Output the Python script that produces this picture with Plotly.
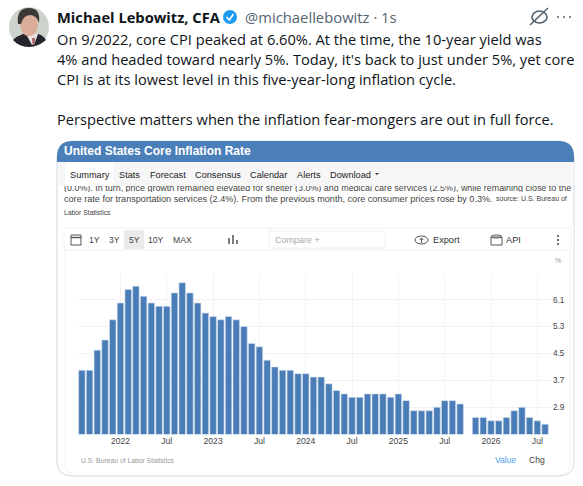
import plotly.graph_objects as go

W, H = 583, 486

# ---- data ----
months = ["Aug 2021", "Sep 2021", "Oct 2021", "Nov 2021", "Dec 2021",
          "Jan 2022", "Feb 2022", "Mar 2022", "Apr 2022", "May 2022", "Jun 2022", "Jul 2022",
          "Aug 2022", "Sep 2022", "Oct 2022", "Nov 2022", "Dec 2022",
          "Jan 2023", "Feb 2023", "Mar 2023", "Apr 2023", "May 2023", "Jun 2023", "Jul 2023",
          "Aug 2023", "Sep 2023", "Oct 2023", "Nov 2023", "Dec 2023",
          "Jan 2024", "Feb 2024", "Mar 2024", "Apr 2024", "May 2024", "Jun 2024", "Jul 2024",
          "Aug 2024", "Sep 2024", "Oct 2024", "Nov 2024", "Dec 2024",
          "Jan 2025", "Feb 2025", "Mar 2025", "Apr 2025", "May 2025", "Jun 2025", "Jul 2025",
          "Aug 2025", "Sep 2025", "Oct 2025", "Nov 2025", "Dec 2025",
          "Jan 2026", "Feb 2026", "Mar 2026", "Apr 2026", "May 2026", "Jun 2026", "Jul 2026",
          "Aug 2026"]
core_cpi = [4.0, 4.0, 4.6, 4.9, 5.5,
            6.0, 6.4, 6.5, 6.2, 6.0, 5.9, 5.9,
            6.3, 6.6, 6.3, 6.0, 5.7,
            5.6, 5.5, 5.6, 5.5, 5.3, 4.8, 4.7,
            4.3, 4.1, 4.0, 4.0, 3.9,
            3.9, 3.8, 3.8, 3.6, 3.4, 3.3, 3.2,
            3.2, 3.3, 3.3, 3.3, 3.2,
            3.3, 3.1, 2.8, 2.8, 2.8, 2.9, 3.1,
            3.1, 3.0, None, 2.6, 2.6,
            2.5, 2.5, 2.6, 2.8, 2.9, 2.6, 2.5,
            2.4]
x_ticks = ["Jan 2022", "Jul 2022", "Jan 2023", "Jul 2023", "Jan 2024", "Jul 2024",
           "Jan 2025", "Jul 2025", "Jan 2026", "Jul 2026"]
x_tick_labels = ["2022", "Jul", "2023", "Jul", "2024", "Jul", "2025", "Jul", "2026", "Jul"]
y_ticks = [2.9, 3.7, 4.5, 5.3, 6.1]
tweet_lines = [
    "On 9/2022, core CPI peaked at 6.60%. At the time, the 10-year yield was",
    "4% and headed toward nearly 5%. Today, it's back to just under 5%, yet core",
    "CPI is at its lowest level in this five-year-long inflation cycle.",
    "Perspective matters when the inflation fear-mongers are out in full force.",
]

# ---- helpers for page furniture (pixel coords from top-left) ----
def px(x): return x / W
def py(y): return 1 - y / H

shapes, annos = [], []

def rect(x0, y0, x1, y1, fill="rgba(0,0,0,0)", line=None, lw=1, layer="below"):
    shapes.append(dict(type="rect", xref="paper", yref="paper", x0=px(x0), x1=px(x1),
                       y0=py(y1), y1=py(y0), fillcolor=fill, layer=layer,
                       line=dict(color=line or "rgba(0,0,0,0)", width=lw if line else 0)))

def path(d, fill="rgba(0,0,0,0)", line=None, lw=1):
    """d is a list of tokens: letters and (x,y) pixel tuples."""
    out = []
    for t in d:
        out.append(t if isinstance(t, str) else f"{px(t[0])},{py(t[1])}")
    shapes.append(dict(type="path", xref="paper", yref="paper", path=" ".join(out),
                       fillcolor=fill, layer="below",
                       line=dict(color=line or "rgba(0,0,0,0)", width=lw if line else 0)))

def oval(x0, y0, x1, y1, fill="rgba(0,0,0,0)", line=None, lw=1):
    shapes.append(dict(type="circle", xref="paper", yref="paper", x0=px(x0), x1=px(x1),
                       y0=py(y1), y1=py(y0), fillcolor=fill, layer="below",
                       line=dict(color=line or "rgba(0,0,0,0)", width=lw if line else 0)))

def text(x, y, s, size=10, color="#333333", font="Liberation Sans", anchor="left", bold=False):
    annos.append(dict(xref="paper", yref="paper", x=px(x), y=py(y), text=f"<b>{s}</b>" if bold else s,
                      showarrow=False, xanchor=anchor, yanchor="middle",
                      font=dict(size=size, color=color, family=font), borderpad=0, borderwidth=0))

TWEET = "Open Sans"
# avatar
oval(9, 7, 49, 47, fill="#ccd3cc")
path(["M", (13, 40), "Q", (17, 36), (23, 34), "L", (38, 34), "Q", (43, 35), (46, 40),
      "Q", (38, 47), (29, 47), "Q", (19, 47), (13, 40), "Z"], fill="#23242c")
path(["M", (26, 34), "L", (38, 34), "L", (34, 45), "L", (32, 45), "Z"], fill="#e8e2e3")
path(["M", (32, 38), "L", (35, 38), "L", (34.5, 45), "L", (32.5, 45), "Z"], fill="#a8606f")
oval(20, 13, 38, 36, fill="#d9ad98")
path(["M", (18, 24), "Q", (16, 8), (29, 8), "Q", (41, 8), (39, 23), "Q", (37, 16), (31, 15),
      "Q", (23, 15), (21, 24), "Z"], fill="#3b3a38")

# tweet header
text(57, 17, "Michael Lebowitz, CFA", size=14.7, color="#0f1419", font=TWEET, bold=True)
oval(223, 10, 237, 24, fill="#1d9bf0")
path(["M", (226.5, 17), "L", (229.3, 20), "L", (233.5, 14)], line="#ffffff", lw=1.6)
text(245, 17, "@michaellebowitz · 1s", size=14.8, color="#536471", font=TWEET)
# grok-like icon
oval(532, 11, 547, 23, line="#536471", lw=1.6)
path(["M", (530, 25), "L", (548, 8)], line="#536471", lw=1.6)
for cx in (558, 564, 570):
    oval(cx - 1, 16, cx + 1, 18, fill="#536471")

# tweet body
for y, s in zip((39, 59, 79, 119), tweet_lines):
    text(57, y, s, size=14.65, color="#0f1419", font=TWEET)

# card
shapes.append(dict(type="path", xref="paper", yref="paper", layer="below",
                   path="M {0} {1} Q {0} {2} {3} {2} L {4} {2} Q {5} {2} {5} {1} L {5} {6} Q {5} {7} {4} {7} L {3} {7} Q {0} {7} {0} {6} Z".format(
                       px(57), py(157), py(141), px(73), px(558), px(574), py(462), py(476)),
                   fillcolor="#ffffff", line=dict(color="#cfd9de", width=1)))
shapes.append(dict(type="path", xref="paper", yref="paper", layer="below",
                   path="M {0} {1} L {0} {2} Q {0} {3} {4} {3} L {5} {3} Q {6} {3} {6} {2} L {6} {1} Z".format(
                       px(57), py(162), py(157), py(141), px(73), px(558), px(574)),
                   fillcolor="#4b7fba", line=dict(width=0)))
text(64, 151, "United States Core Inflation Rate", size=12, color="#ffffff", bold=True)

# tab bar
rect(58, 162, 574, 186, fill="#f6f6f6")
rect(65, 163, 113, 186, fill="#ffffff")
for x, s in [(70, "Summary"), (119, "Stats"), (150, "Forecast"), (195, "Consensus"), (250, "Calendar"),
             (297, "Alerts"), (330, "Download")]:
    text(x, 174.5, s, size=9.2, color="#222222")
path(["M", (375, 173), "L", (379, 173), "L", (377, 175), "Z"], fill="#333333")

# description text
text(64, 199, "core rate for transportation services (2.4%). From the previous month, core consumer prices rose by 0.3%.",
     size=9.1, color="#444444")
text(496, 199, "source: U.S. Bureau of", size=7, color="#444444")
text(64, 213, "Labor Statistics", size=6.8, color="#444444")

# toolbar
rect(64, 228, 571, 250, line="#f0f0f0", fill="#ffffff")
rect(124, 230, 144, 249, fill="#ebebeb")
rect(71, 235, 81, 245, line="#555555", lw=1)
path(["M", (71, 237.5), "L", (81, 237.5)], line="#555555", lw=1.4)
for x, s in [(94, "1Y"), (114, "3Y"), (134, "5Y"), (156, "10Y"), (182.5, "MAX")]:
    text(x, 240, s, size=8.6, color="#444444", anchor="center")
for x, y0 in [(229, 238), (233, 235), (237, 240)]:
    path(["M", (x, y0), "L", (x, 244)], line="#444444", lw=1.4)
rect(269, 231, 385, 248, line="#f0f0f0", fill="#ffffff")
text(275, 239.5, "Compare +", size=9, color="#aaaaaa")
oval(415, 236, 428, 244, line="#555555", lw=1)
path(["M", (421.5, 243), "L", (421.5, 238), "M", (419.5, 240), "L", (421.5, 238), "L", (423.5, 240)], line="#555555", lw=1)
text(433, 240, "Export", size=9.2, color="#333333")
oval(491, 235, 502, 238, line="#555555", lw=1)
rect(491, 237, 502, 245, line="#555555", lw=1)
text(506, 240, "API", size=9.2, color="#333333")
for y in (236, 240, 244):
    oval(557, y - 1, 559, y + 1, fill="#333333")

# faint inner frame
path(["M", (65, 252), "L", (65, 465), "Q", (65, 474), (74, 474)], line="#eef2f5", lw=1)
path(["M", (570, 252), "L", (570, 465), "Q", (570, 474), (561, 474)], line="#eef2f5", lw=1)

# chart frame text
text(558, 260, "%", size=7, color="#999999", anchor="center")
text(81, 460, "U.S. Bureau of Labor Statistics", size=6.8, color="#999999")
text(495, 460, "Value", size=8.6, color="#4aa3f0")
text(529, 460, "Chg", size=8.6, color="#444444")

fig = go.Figure()
fig.add_bar(x=months, y=core_cpi, marker=dict(color="#4a7cb8", line=dict(color="#d5e2f0", width=0.6)),
            width=0.84, showlegend=False, hoverinfo="skip")
# clipped first line of description, cut by the tab bar
fig.add_scatter(x=[0], y=[0.5], mode="text", xaxis="x2", yaxis="y2", cliponaxis=True, showlegend=False,
                text=["(0.0%). In turn, price growth remained elevated for shelter (3.0%) and medical care services (2.5%), while remaining close to the"],
                textposition="middle right", hoverinfo="skip",
                textfont=dict(size=8.95, color="#444444", family="Liberation Sans"))

fig.update_layout(
    width=W, height=H, margin=dict(l=0, r=0, t=0, b=0), autosize=False,
    paper_bgcolor="#ffffff", plot_bgcolor="#ffffff", shapes=shapes, annotations=annos, bargap=0.16,
    xaxis=dict(type="category", categoryorder="array", categoryarray=months,
               domain=[px(78), px(552)], anchor="y", range=[-0.5, 60.9],
               tickmode="array", tickvals=x_ticks, ticktext=x_tick_labels,
               ticks="", showline=False, showgrid=True, gridcolor="#f3f3f3", gridwidth=1,
               tickfont=dict(size=8.6, color="#444444", family="Liberation Sans"), zeroline=False),
    yaxis=dict(domain=[py(434.3), py(272.7)], anchor="x", side="right", range=[2.1, 6.9],
               tickmode="array", tickvals=y_ticks, ticktext=[f"{v:.1f}" for v in y_ticks],
               ticks="", showline=False, showgrid=True, gridcolor="#f3f3f3", gridwidth=1,
               tickfont=dict(size=8.2, color="#444444", family="Liberation Sans"), zeroline=False),
    xaxis2=dict(domain=[px(64), px(572)], anchor="y2", range=[0, 1], visible=False, fixedrange=True),
    yaxis2=dict(domain=[py(192), py(186)], anchor="x2", range=[0, 1], visible=False, fixedrange=True),
)

fig.write_html("out.html", config={"displayModeBar": False},
               post_script="document.body.style.margin='0';document.body.style.overflow='hidden';")
